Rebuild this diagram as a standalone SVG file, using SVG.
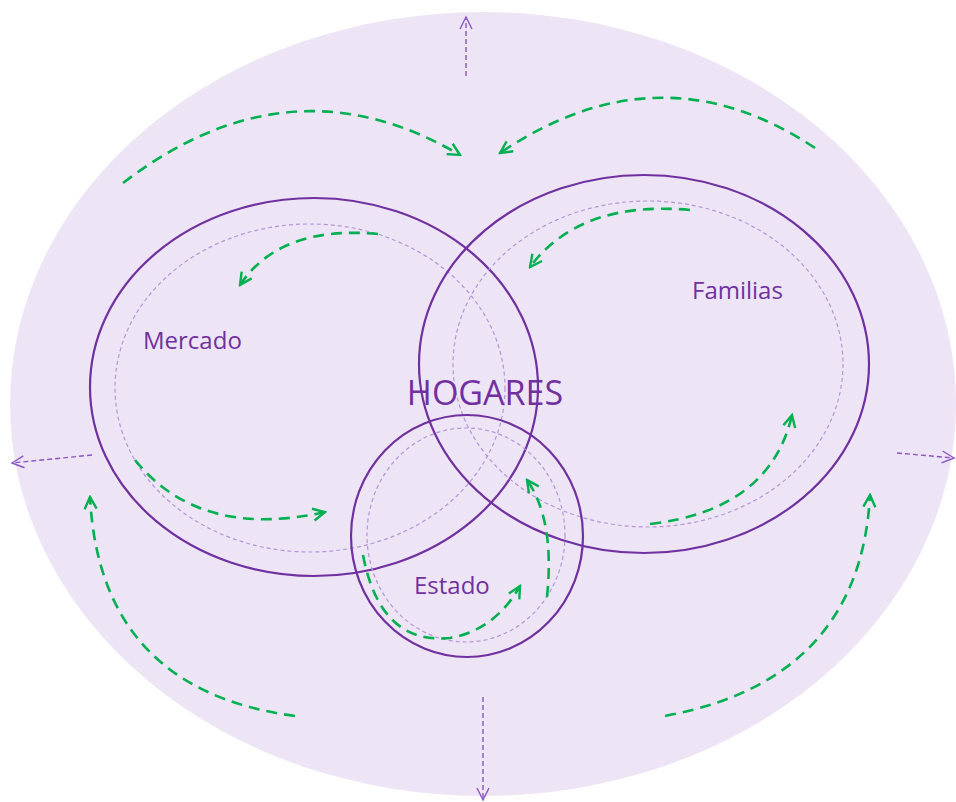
<svg xmlns="http://www.w3.org/2000/svg" width="956" height="802" viewBox="0 0 956 802">
<defs>
<style>
.ring{fill:none;stroke:#7030a0;stroke-width:2.2}
.inner{fill:none;stroke:#b197d8;stroke-width:1.2;stroke-dasharray:4 3}
.g{fill:none;stroke:#00b050;stroke-width:2.6;stroke-dasharray:11 7;marker-end:url(#ga)}
.p{fill:none;stroke:#8a55c0;stroke-width:1.4;stroke-dasharray:5 3;marker-end:url(#pa)}
.lbl{font-family:"Open Sans","Liberation Sans",sans-serif;fill:#7030a0}
</style>
<marker id="ga" viewBox="0 0 16 16" refX="14" refY="8" markerWidth="16" markerHeight="16" markerUnits="userSpaceOnUse" orient="auto">
<path d="M2,2 L14,8 L2,14" fill="none" stroke="#00b050" stroke-width="2.4"/>
</marker>
<marker id="pa" viewBox="0 0 16 16" refX="14" refY="8" markerWidth="16" markerHeight="16" markerUnits="userSpaceOnUse" orient="auto">
<path d="M2,2 L14,8 L2,14" fill="none" stroke="#8a55c0" stroke-width="1.4"/>
</marker>
</defs>
<rect width="956" height="802" fill="#ffffff"/>
<g id="background"><ellipse cx="483" cy="404" rx="473" ry="392" fill="#ede5f5"/></g>
<g id="mercado">
<ellipse class="ring" cx="314" cy="387" rx="224" ry="189"/>
<ellipse class="inner" cx="310" cy="388" rx="195" ry="164"/>
<text class="lbl" x="143" y="349" font-size="24">Mercado</text>
</g>
<g id="familias">
<ellipse class="ring" cx="644" cy="364" rx="225" ry="189"/>
<ellipse class="inner" cx="648" cy="364" rx="195" ry="163"/>
<text class="lbl" x="692" y="299" font-size="24">Familias</text>
</g>
<g id="estado">
<ellipse class="ring" cx="467" cy="536" rx="116" ry="121"/>
<ellipse class="inner" cx="466" cy="535" rx="99" ry="107"/>
<text class="lbl" x="414" y="594" font-size="24">Estado</text>
</g>
<g id="hogares">
<text class="lbl" x="485" y="405" font-size="34" text-anchor="middle">HOGARES</text>
</g>
<g id="connectors">
<path class="g" d="M123,183 Q290,55 460,155"/>
<path class="g" d="M815,148 Q660,45 500,153"/>
<path class="g" d="M378,234 Q280,225 240,285"/>
<path class="g" d="M690,210 Q580,200 530,267"/>
<path class="g" d="M135,460 Q200,540 325,512"/>
<path class="g" d="M650,524 Q770,510 792,415"/>
<path class="g" d="M363,555 Q380,645 450,638 Q495,630 520,586"/>
<path class="g" d="M547,597 Q555,520 527,480"/>
<path class="g" d="M295,716 Q100,690 90,497"/>
<path class="g" d="M665,716 Q860,680 870,495"/>
<path class="p" d="M466,76 L466,17"/>
<path class="p" d="M92,455 L12,463"/>
<path class="p" d="M897,453 L954,458"/>
<path class="p" d="M483,697 L483,800"/>
</g>
</svg>
